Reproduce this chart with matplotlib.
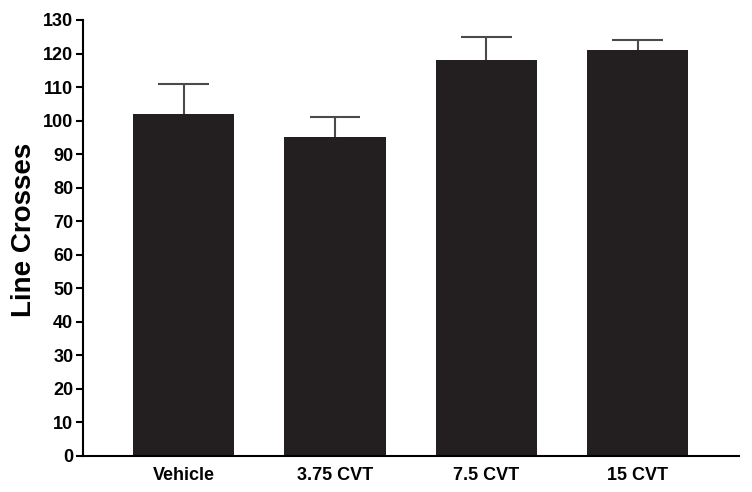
import matplotlib
matplotlib.use("Agg")
import matplotlib.pyplot as plt
import numpy as np

categories = ["Vehicle", "3.75 CVT", "7.5 CVT", "15 CVT"]
means = [102, 95, 118, 121]
errors = [9, 6, 7, 3]
yticks = list(range(0, 131, 10))

plt.rcParams['font.family'] = ['Liberation Sans', 'DejaVu Sans']

fig = plt.figure(figsize=(7.52, 4.92), dpi=100)
ax = fig.add_axes([83/752, 1-456/492, (739-83)/752, (456-20)/492])

x = np.arange(len(categories))
tops = np.array(means) + np.array(errors)
ax.bar(x, means, width=0.67, color="#231f20", zorder=2)
ax.vlines(x, means, tops, color="#4a4a4a", linewidth=1.5, zorder=1)
ax.hlines(tops, x - 0.168, x + 0.168, color="#4a4a4a", linewidth=1.5, zorder=1)

ax.set_xlim(-0.665, 3.67)
ax.set_ylim(0, 130)
ax.set_yticks(yticks)
ax.set_yticklabels([str(t) for t in yticks], fontsize=13, fontweight="bold")
ax.set_xticks(x)
ax.set_xticklabels(categories, fontsize=13, fontweight="bold")
ax.tick_params(axis="x", length=0, pad=8)
ax.tick_params(axis="y", length=5, width=1.5, pad=2)
ax.spines["top"].set_visible(False)
ax.spines["right"].set_visible(False)
ax.spines["left"].set_linewidth(1.5)
ax.spines["bottom"].set_linewidth(1.5)
ax.set_ylabel("Line Crosses", fontsize=20, fontweight="bold")
ax.yaxis.set_label_coords(-0.07, 0.518)

fig.savefig("out.png", dpi=100)
